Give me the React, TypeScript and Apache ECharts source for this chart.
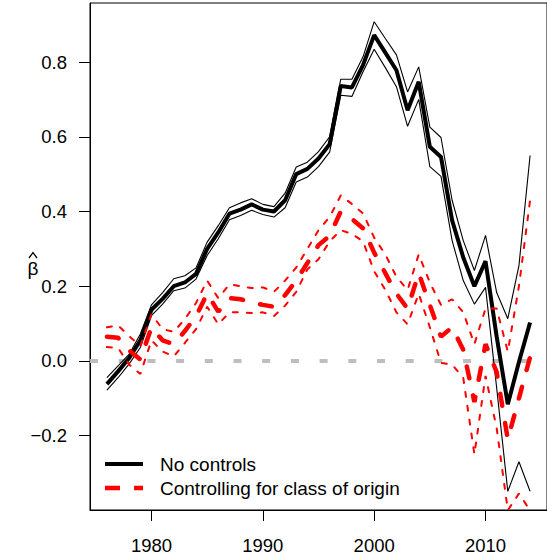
import React, { useEffect, useRef } from "react";
import * as echarts from "echarts";

const years = [
  1976, 1977, 1978, 1979, 1980, 1981, 1982, 1983, 1984, 1985, 1986, 1987, 1988,
  1989, 1990, 1991, 1992, 1993, 1994, 1995, 1996, 1997, 1998, 1999, 2000, 2001,
  2002, 2003, 2004, 2005, 2006, 2007, 2008, 2009, 2010, 2011, 2012, 2013, 2014,
];

const noControls = [
  -0.062, -0.028, 0.008, 0.055, 0.137, 0.166, 0.2, 0.21, 0.233, 0.3, 0.344, 0.394, 0.405,
  0.419, 0.405, 0.4, 0.43, 0.5, 0.514, 0.542, 0.58, 0.736, 0.732, 0.792, 0.872, 0.825,
  0.778, 0.671, 0.747, 0.573, 0.546, 0.376, 0.277, 0.2, 0.267, 0.065, -0.116, -0.003, 0.103,
];
const noControlsUpper = [
  -0.045, -0.013, 0.018, 0.072, 0.15, 0.183, 0.22, 0.228, 0.249, 0.318, 0.362, 0.41, 0.423,
  0.434, 0.419, 0.413, 0.449, 0.519, 0.532, 0.56, 0.6, 0.754, 0.754, 0.814, 0.908, 0.863,
  0.819, 0.72, 0.787, 0.626, 0.598, 0.43, 0.322, 0.242, 0.336, 0.183, 0.113, 0.255, 0.55,
];
const noControlsLower = [
  -0.078, -0.045, -0.008, 0.036, 0.121, 0.152, 0.188, 0.195, 0.219, 0.282, 0.327, 0.378, 0.389,
  0.403, 0.392, 0.385, 0.41, 0.479, 0.492, 0.52, 0.559, 0.711, 0.708, 0.774, 0.834, 0.785,
  0.734, 0.628, 0.7, 0.52, 0.494, 0.322, 0.215, 0.152, 0.197, -0.072, -0.349, -0.27, -0.349,
];

const classOrigin = [
  0.065, 0.062, 0.028, 0.004, 0.09, 0.055, 0.045, 0.08, 0.12, 0.18, 0.132, 0.168, 0.165,
  0.157, 0.15, 0.145, 0.176, 0.215, 0.262, 0.31, 0.335, 0.4, 0.38, 0.355, 0.29, 0.235,
  0.18, 0.14, 0.235, 0.15, 0.065, 0.09, 0.03, -0.11, 0.045, -0.03, -0.21, -0.1, 0.01,
];
const classOriginUpper = [
  0.09, 0.095, 0.066, 0.04, 0.125, 0.085, 0.078, 0.112, 0.155, 0.215, 0.168, 0.205, 0.2,
  0.195, 0.197, 0.185, 0.215, 0.25, 0.3, 0.35, 0.385, 0.443, 0.42, 0.395, 0.33, 0.285,
  0.225, 0.19, 0.285, 0.21, 0.15, 0.165, 0.13, 0.045, 0.14, 0.14, 0.025, 0.2, 0.43,
];
const classOriginLower = [
  0.037, 0.035, -0.01, -0.035, 0.055, 0.025, 0.012, 0.048, 0.085, 0.145, 0.098, 0.13, 0.13,
  0.128, 0.13, 0.12, 0.148, 0.185, 0.245, 0.272, 0.32, 0.35, 0.34, 0.32, 0.24, 0.19,
  0.13, 0.098, 0.18, 0.09, -0.005, -0.01, -0.045, -0.25, -0.04, -0.18, -0.4, -0.355, -0.4,
];

const xTicks = [1980, 1990, 2000, 2010];
const yTicks = [-0.2, 0, 0.2, 0.4, 0.6, 0.8];
const seriesNames = ["No controls", "Controlling for class of origin"];
const yName = "\u03b2";

const FONT = "'Liberation Sans', Arial, Helvetica, sans-serif";

const pairs = (vals: number[]) => years.map((y, i) => [y, vals[i]]);

export default function App() {
  const ref = useRef<HTMLDivElement>(null);
  useEffect(() => {
    document.body.style.margin = "0";
    if (!ref.current) return;
    const chart = echarts.init(ref.current, undefined, { renderer: "svg" });
    const thinBlack = { color: "#000", width: 1.1 };
    const thinRed = { color: "#ff0000", width: 2, type: [5, 9], cap: "round" as const };
    const base = { type: "line" as const, symbol: "none", showSymbol: false, silent: true, clip: true };
    chart.setOption({
      animation: false,
      backgroundColor: "#fff",
      grid: {
        left: 90,
        right: -4,
        top: 3,
        bottom: 46,
        show: true,
        borderColor: "#000",
        borderWidth: 1,
        backgroundColor: "transparent",
      },
      xAxis: {
        type: "value",
        min: 1974.48,
        max: 2015.52,
        axisLine: { show: true, onZero: false, lineStyle: { color: "#000", width: 1 } },
        axisTick: { show: true, length: 11, customValues: xTicks, lineStyle: { color: "#000" } },
        axisLabel: {
          customValues: xTicks,
          margin: 26,
          fontSize: 18.5,
          color: "#000",
          fontFamily: FONT,
          formatter: (v: number) => String(Math.round(v)),
        },
        splitLine: { show: false },
      },
      yAxis: {
        type: "value",
        min: -0.399,
        max: 0.958,
        axisLine: { show: true, onZero: false, lineStyle: { color: "#000", width: 1 } },
        axisTick: { show: true, length: 11, customValues: yTicks, lineStyle: { color: "#000" } },
        axisLabel: {
          customValues: yTicks,
          margin: 23,
          fontSize: 18.5,
          color: "#000",
          fontFamily: FONT,
          formatter: (v: number) => (v < -1e-9 ? "\u2212" + Math.abs(v).toFixed(1) : Math.abs(v).toFixed(1)),
        },
        splitLine: { show: false },
      },
      graphic: [
        {
          type: "text",
          x: 33,
          y: 268,
          style: { text: yName, fontSize: 19, fontFamily: FONT, fill: "#000", align: "center", verticalAlign: "middle" },
        },
        {
          type: "polyline",
          shape: { points: [[29, 258], [33, 252.5], [37, 258]] },
          style: { stroke: "#000", lineWidth: 1.3, fill: "none" },
        },
        {
          type: "line",
          shape: { x1: 105, y1: 464, x2: 143, y2: 464 },
          style: { stroke: "#000", lineWidth: 4 },
        },
        {
          type: "line",
          shape: { x1: 105, y1: 488, x2: 143, y2: 488 },
          style: { stroke: "#ff0000", lineWidth: 4.5, lineDash: [15, 14], lineCap: "butt" },
        },
        {
          type: "text",
          x: 160,
          y: 464,
          style: { text: seriesNames[0], fontSize: 19, fontFamily: FONT, fill: "#000", verticalAlign: "middle" },
        },
        {
          type: "text",
          x: 160,
          y: 488,
          style: { text: seriesNames[1], fontSize: 19, fontFamily: FONT, fill: "#000", verticalAlign: "middle" },
        },
      ],
      series: [
        {
          ...base,
          name: "zero",
          data: [[1974.48, 0], [2015.52, 0]],
          lineStyle: { color: "#bebebe", width: 4, type: [8, 20.7], cap: "butt" },
          z: 1,
        },
        { ...base, name: "noLo", data: pairs(noControlsLower), lineStyle: thinBlack, z: 2 },
        { ...base, name: "noHi", data: pairs(noControlsUpper), lineStyle: thinBlack, z: 2 },
        {
          ...base,
          name: seriesNames[0],
          data: pairs(noControls),
          lineStyle: { color: "#000", width: 4 },
          z: 3,
        },
        { ...base, name: "coLo", data: pairs(classOriginLower), lineStyle: thinRed, z: 4 },
        { ...base, name: "coHi", data: pairs(classOriginUpper), lineStyle: thinRed, z: 4 },
        {
          ...base,
          name: seriesNames[1],
          data: pairs(classOrigin),
          lineStyle: { color: "#ff0000", width: 4.5, type: [12, 17.5], cap: "round" },
          z: 5,
        },
      ],
    });
    return () => chart.dispose();
  }, []);
  return <div ref={ref} style={{ width: 547, height: 556 }} />;
}
